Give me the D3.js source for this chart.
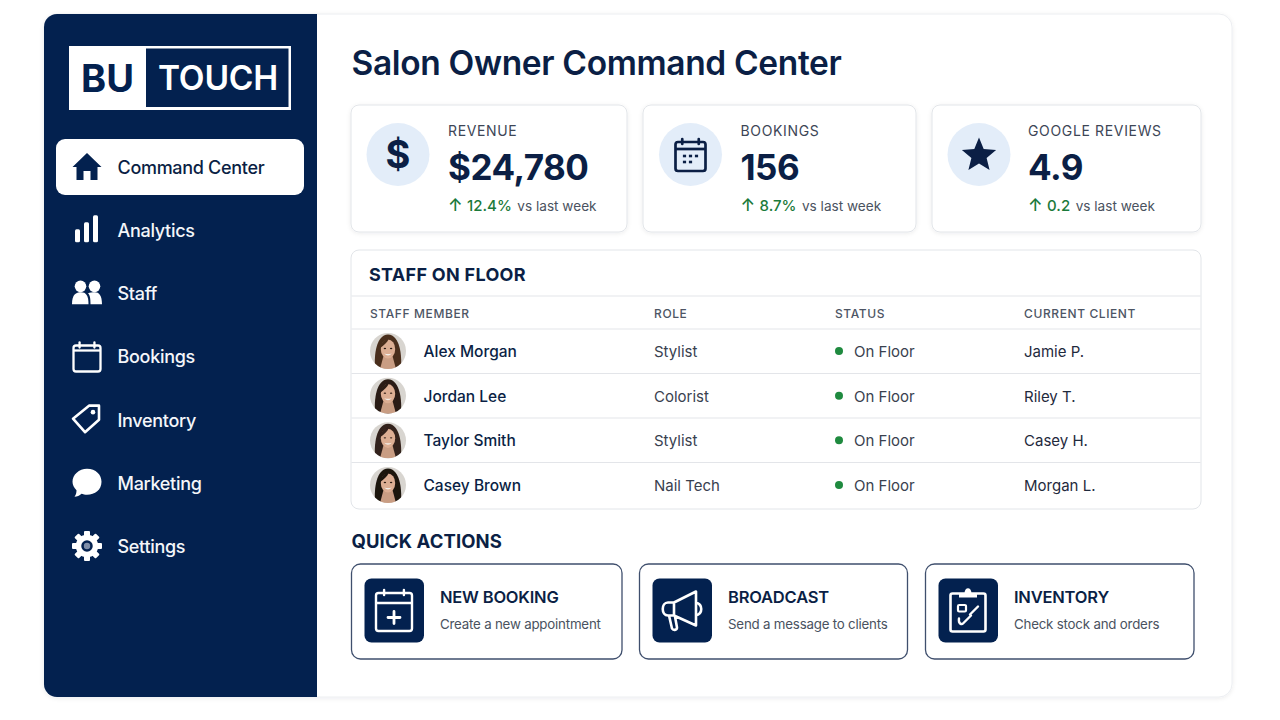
<!DOCTYPE html>
<html>
<head>
<meta charset="utf-8">
<title>Salon Owner Command Center</title>
<script src="https://cdn.jsdelivr.net/npm/d3@7.9.0/dist/d3.min.js"></script>
<style>
  html, body { margin: 0; padding: 0; background: #fff; }
  svg { display: block; }
  text { font-family: Inter, "Noto Sans", sans-serif; }
</style>
</head>
<body>
<svg id="board" width="1280" height="720"></svg>
<script>
const navLabels = ["Command Center", "Analytics", "Staff", "Bookings", "Inventory", "Marketing", "Settings"];
const navIcons = ["home", "bars", "people", "calendar", "tag", "bubble", "gear"];

const kpiLabels = ["REVENUE", "BOOKINGS", "GOOGLE REVIEWS"];
const kpiValues = ["$24,780", "156", "4.9"];
const kpiDeltas = ["12.4%", "8.7%", "0.2"];

const staffColumns = ["STAFF MEMBER", "ROLE", "STATUS", "CURRENT CLIENT"];
const staffNames = ["Alex Morgan", "Jordan Lee", "Taylor Smith", "Casey Brown"];
const staffRoles = ["Stylist", "Colorist", "Stylist", "Nail Tech"];
const staffStatus = ["On Floor", "On Floor", "On Floor", "On Floor"];
const staffClients = ["Jamie P.", "Riley T.", "Casey H.", "Morgan L."];

const actionTitles = ["NEW BOOKING", "BROADCAST", "INVENTORY"];
const actionNotes = ["Create a new appointment", "Send a message to clients", "Check stock and orders"];

const navy = "#03214f";
const ink = "#0b1f45";
const green = "#1b7a3a";
const grey = "#4a5260";

const svg = d3.select("#board");

function label(g, x, y, str, size, weight, fill, spacing) {
  return g.append("text")
    .attr("x", x).attr("y", y).attr("dy", "0.36em")
    .attr("font-size", size).attr("font-weight", weight)
    .attr("fill", fill).attr("letter-spacing", spacing || 0)
    .text(str);
}

const defs = svg.append("defs");
const shadow = defs.append("filter").attr("id", "soft")
  .attr("x", "-5%").attr("y", "-5%").attr("width", "110%").attr("height", "110%");
shadow.append("feDropShadow").attr("dx", 0).attr("dy", 1).attr("stdDeviation", 2)
  .attr("flood-color", "#0b1f45").attr("flood-opacity", 0.08);
defs.append("filter").attr("id", "photo").append("feGaussianBlur").attr("stdDeviation", 0.5);
defs.append("clipPath").attr("id", "sideClip").append("rect")
  .attr("x", 44).attr("y", 14).attr("width", 273).attr("height", 683);
defs.append("clipPath").attr("id", "avatarClip").append("circle").attr("r", 18);

// outer frame and sidebar
svg.append("rect").attr("x", 44).attr("y", 14).attr("width", 1188).attr("height", 683)
  .attr("rx", 13).attr("fill", "#fff").attr("stroke", "#eceef1").attr("filter", "url(#soft)");
svg.append("rect").attr("x", 44).attr("y", 14).attr("width", 300).attr("height", 683)
  .attr("rx", 13).attr("fill", navy).attr("clip-path", "url(#sideClip)");

// logo
const logo = svg.append("g");
logo.append("rect").attr("x", 69).attr("y", 46).attr("width", 222).attr("height", 64).attr("fill", "#fff");
logo.append("rect").attr("x", 146).attr("y", 48.5).attr("width", 142.5).attr("height", 58.5).attr("fill", navy);
label(logo, 81, 78, "BU", 38, 700, navy, 0);
label(logo, 158, 78, "TOUCH", 33.5, 600, "#fff", -0.2);

function strokeCalendar(g, c, r, sw, extra, head) {
  g.append("rect").attr("x", -r).attr("y", -r + 2.5).attr("width", 2 * r).attr("height", 2 * r - 1 + extra)
    .attr("rx", 2.5).attr("fill", "none").attr("stroke", c).attr("stroke-width", sw);
  g.append("line").attr("x1", -r).attr("x2", r).attr("y1", head).attr("y2", head)
    .attr("stroke", c).attr("stroke-width", sw);
  [-r * 0.55, r * 0.55].forEach(x => g.append("line")
    .attr("x1", x).attr("x2", x).attr("y1", -r - 0.5).attr("y2", -r + 4.5)
    .attr("stroke", c).attr("stroke-width", sw).attr("stroke-linecap", "round"));
}

// icon drawing, each in a local box centred on 0,0
const iconDraw = {
  home(g, c) {
    g.append("path").attr("fill", c)
      .attr("d", "M0,-14 L14.5,0 L10.5,0 L10.5,13 L3.5,13 L3.5,4 L-3.5,4 L-3.5,13 L-10.5,13 L-10.5,0 L-14.5,0 Z");
  },
  bars(g, c) {
    g.selectAll("rect").data([[-12, -1, 13], [-3, -8, 20], [6, -15, 27]]).join("rect")
      .attr("x", d => d[0]).attr("y", d => d[1]).attr("width", 5).attr("height", d => d[2])
      .attr("rx", 1.5).attr("fill", c);
  },
  people(g, c) {
    g.append("circle").attr("cx", -6.5).attr("cy", -7).attr("r", 5.8).attr("fill", c);
    g.append("circle").attr("cx", 7.5).attr("cy", -7).attr("r", 5.8).attr("fill", c);
    g.append("path").attr("fill", c).attr("d", "M-15,11 C-15,1 -11,-1 -6,-1 C-1,-1 1.5,2 1.5,11 Z");
    g.append("path").attr("fill", c).attr("d", "M3.5,11 C3.5,5 3,2 1,0 C3,-1 5,-1 8,-1 C12,-1 15,2 15,11 Z");
  },
  calendar(g, c) { strokeCalendar(g, c, 13.5, 2.3, 0, -6); },
  tag(g, c) {
    g.append("path").attr("fill", "none").attr("stroke", c).attr("stroke-width", 2.6).attr("stroke-linejoin", "round")
      .attr("d", "M-14,-1 L2,-14 L12,-14 L12,0 L-2,12.5 Z");
    g.append("circle").attr("cx", 6).attr("cy", -7.5).attr("r", 2.3).attr("fill", c);
  },
  bubble(g, c) {
    g.append("path").attr("fill", c)
      .attr("d", "M0,-14 C9,-14 14.5,-8 14.5,-1 C14.5,7 8,12 0,12 C-2,12 -4,11.5 -5.5,11 C-7.5,13 -10,14 -12.5,14 C-11,12 -10.5,10 -10.5,7.5 C-13,5 -14.5,2 -14.5,-1 C-14.5,-8 -8,-14 0,-14 Z");
  },
  gear(g, c) {
    const teeth = d3.range(8).map(i => i * 45);
    g.selectAll("rect").data(teeth).join("rect")
      .attr("x", -3).attr("y", -15).attr("width", 6).attr("height", 6).attr("rx", 1)
      .attr("fill", c).attr("transform", d => `rotate(${d})`);
    g.append("circle").attr("r", 8.5).attr("fill", "none").attr("stroke", c).attr("stroke-width", 5.5);
    g.append("circle").attr("r", 3.2).attr("fill", "#7f8ea8");
  }
};

// sidebar nav
const navY = d3.scalePoint().domain(navLabels).range([167, 546]);
svg.append("rect").attr("x", 56).attr("y", 139).attr("width", 248).attr("height", 56).attr("rx", 9).attr("fill", "#fff");
navLabels.forEach((name, i) => {
  const on = i === 0;
  const c = on ? navy : "#fff";
  const icon = svg.append("g").attr("transform", `translate(87,${navY(name)})`);
  iconDraw[navIcons[i]](icon, c);
  label(svg, 117.5, navY(name) + 0.5, name, 18, 500, on ? ink : "#f4f6fa", -0.3);
});

// heading
label(svg, 351.5, 62.5, "Salon Owner Command Center", 33.5, 600, ink, -0.35);

// kpi cards
const kpiBox = d3.scaleOrdinal().domain(kpiLabels).range([[351, 276], [643, 273], [932, 269]]);
const kpiCircle = d3.scaleOrdinal().domain(kpiLabels).range([398, 690.5, 979]);
const kpiText = d3.scaleOrdinal().domain(kpiLabels).range([448, 740.5, 1028]);
const starLine = d3.lineRadial().curve(d3.curveLinearClosed);
const starPts = d3.range(10).map(i => [i * Math.PI / 5, i % 2 ? 8 : 18]);
const kpiGlyph = [
  g => label(g, 0, 0, "$", 38, 700, ink, 0).attr("text-anchor", "middle"),
  g => {
    strokeCalendar(g, ink, 15, 2.7, 0, -5.5);
    const dots = [[-6, 1.5], [0, 1.5], [6, 1.5], [-6, 7.5], [0, 7.5]];
    g.selectAll("rect.dot").data(dots).join("rect").attr("class", "dot")
      .attr("x", d => d[0] - 1.6).attr("y", d => d[1] - 1.3).attr("width", 3.2).attr("height", 2.6).attr("fill", ink);
  },
  g => g.append("path").attr("d", starLine(starPts)).attr("fill", ink).attr("transform", "translate(0,1)")
];
kpiLabels.forEach((name, i) => {
  const [x, w] = kpiBox(name);
  const tx = kpiText(name);
  svg.append("rect").attr("x", x).attr("y", 105).attr("width", w).attr("height", 127).attr("rx", 8)
    .attr("fill", "#fff").attr("stroke", "#e2e5e9").attr("filter", "url(#soft)");
  svg.append("circle").attr("cx", kpiCircle(name)).attr("cy", 154.5).attr("r", 31.5).attr("fill", "#e3edf9");
  kpiGlyph[i](svg.append("g").attr("transform", `translate(${kpiCircle(name)},154.5)`));
  label(svg, tx, 130.5, name, 14, 400, "#3d4656", 0.65);
  label(svg, tx, 167, kpiValues[i], 35, 700, ink, -0.5);
  const delta = label(svg, tx, 205.5, "", 15, 500, green, 0);
  delta.append("tspan").attr("font-size", 17).text("↑");
  delta.append("tspan").attr("dx", 4.5).text(kpiDeltas[i]);
  delta.append("tspan").attr("dx", 5.5).attr("fill", grey).attr("font-size", 13.6).attr("font-weight", 400).text("vs last week");
});

// staff table
svg.append("rect").attr("x", 351).attr("y", 250).attr("width", 850).attr("height", 259).attr("rx", 8)
  .attr("fill", "#fff").attr("stroke", "#e2e5e9");
label(svg, 369, 275, "STAFF ON FLOOR", 18, 700, ink, 0.3);

const colX = d3.scaleOrdinal().domain(staffColumns).range([370, 654, 835, 1024]);
const rowY = d3.scalePoint().domain(staffNames).range([351, 485]);
const rules = [296, 329, 373.5, 418, 462.5];
svg.selectAll("line.rule").data(rules).join("line").attr("class", "rule")
  .attr("x1", 351.5).attr("x2", 1200.5).attr("y1", d => d).attr("y2", d => d)
  .attr("stroke", "#e3e5e9");
staffColumns.forEach(c => label(svg, colX(c), 313.5, c, 12, 500, "#4d5564", 0.6));

function avatar(g, seed) {
  const hair = ["#4a2e1c", "#2b1b13", "#33201a", "#1e1410"][seed];
  g.append("circle").attr("r", 18).attr("fill", "#d8d5d0");
  const a = g.append("g").attr("clip-path", "url(#avatarClip)").attr("filter", "url(#photo)");
  a.append("path").attr("fill", hair)
    .attr("d", "M-13,18 C-14,4 -12,-16 0,-16.5 C12,-16 14,4 13,18 Z");
  a.append("path").attr("fill", "#c99d83").attr("d", "M-4.5,5 L4.5,5 L8,18 L-8,18 Z");
  a.append("ellipse").attr("cy", -2).attr("rx", 7.2).attr("ry", 9.6).attr("fill", "#dcae93");
  a.append("path").attr("fill", hair).attr("d", "M-8,-3 C-7,-9 -3,-12 1,-12.5 C-1,-8 -4,-6 -8,-3 Z");
  a.append("path").attr("fill", "#f4efe9").attr("d", "M-3.8,2.5 Q0,6.5 3.8,2.5 Q0,3.5 -3.8,2.5 Z");
  a.selectAll("ellipse.eye").data([-3.1, 3.1]).join("ellipse").attr("class", "eye")
    .attr("cx", d => d).attr("cy", -2.5).attr("rx", 1.2).attr("ry", 0.7).attr("fill", "#2b1a12");
}

staffNames.forEach((name, i) => {
  const y = rowY(name);
  avatar(svg.append("g").attr("transform", `translate(388,${y})`), i);
  label(svg, 423.5, y + 0.5, name, 15.5, 500, ink, 0);
  label(svg, colX("ROLE"), y + 0.5, staffRoles[i], 15, 400, "#39414f", 0);
  svg.append("circle").attr("cx", 839).attr("cy", y).attr("r", 4).attr("fill", "#1f8a3f");
  label(svg, 854, y + 0.5, staffStatus[i], 15, 400, "#39414f", 0);
  label(svg, colX("CURRENT CLIENT"), y + 0.5, staffClients[i], 15, 400, "#1f2a3d", 0);
});

// quick actions
label(svg, 351.5, 541, "QUICK ACTIONS", 18.5, 700, ink, 0.1);
const actBox = d3.scaleOrdinal().domain(actionTitles).range([[351.5, 270.5], [639.5, 268], [925.5, 268.5]]);
const actGlyph = [
  g => {
    g.attr("transform", g.attr("transform") + " translate(0,-2)");
    strokeCalendar(g, "#fff", 18, 2.4, 3, -5.5);
    g.append("path").attr("d", "M-6,9 H6 M0,3 V15").attr("fill", "none").attr("stroke", "#fff").attr("stroke-width", 2.8).attr("stroke-linecap", "round");
  },
  g => {
    g.append("path").attr("fill", "none").attr("stroke", "#fff").attr("stroke-width", 2.6).attr("stroke-linejoin", "round").attr("stroke-linecap", "round")
      .attr("d", "M-8,-8 L14,-19 V15 L-8,5 H-14 C-21,5 -21,-8 -14,-8 Z M-8,-8 V5 M14,-8 C21,-6 21,3 14,5 M-13,5 L-10,18 C-9,20 -5,20 -5,17 L-7,6");
  },
  g => {
    g.append("rect").attr("x", -17.5).attr("y", -17).attr("width", 35).attr("height", 38).attr("rx", 2)
      .attr("fill", "none").attr("stroke", "#fff").attr("stroke-width", 2.6);
    g.append("path").attr("fill", "#fff").attr("d", "M-9,-17 H-3.5 C-3.5,-24 3.5,-24 3.5,-17 H9 V-13 H-9 Z");
    g.append("rect").attr("x", -10).attr("y", -5.5).attr("width", 8).attr("height", 6.5).attr("rx", 1.2)
      .attr("fill", "none").attr("stroke", "#fff").attr("stroke-width", 2.2);
    g.append("path").attr("fill", "none").attr("stroke", "#fff").attr("stroke-width", 2.4).attr("stroke-linecap", "round")
      .attr("d", "M2,4 L10,-4 M-9,8 C-10,14 -6,14 -5,13 L3,5");
  }
];
actionTitles.forEach((name, i) => {
  const [x, w] = actBox(name);
  svg.append("rect").attr("x", x).attr("y", 564).attr("width", w).attr("height", 95).attr("rx", 9)
    .attr("fill", "#fff").attr("stroke", "#3f4f6d").attr("stroke-width", 1.3);
  svg.append("rect").attr("x", x + 13).attr("y", 578.5).attr("width", 59.5).attr("height", 64).attr("rx", 7).attr("fill", navy);
  actGlyph[i](svg.append("g").attr("transform", `translate(${x + 42.5},610.5)`));
  label(svg, x + 88.5, 597, name, 16.5, 600, ink, -0.2);
  label(svg, x + 88.5, 624, actionNotes[i], 13.3, 400, "#4a5260", -0.2);
});
</script>
</body>
</html>
